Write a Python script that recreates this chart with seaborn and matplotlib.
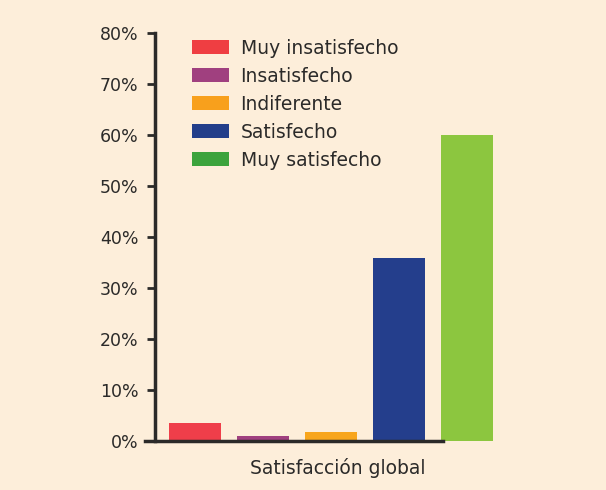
import numpy as np
import pandas as pd
import matplotlib
matplotlib.use("Agg")
import matplotlib.pyplot as plt
from matplotlib.patches import Patch
import seaborn as sns

categorias = ["Muy insatisfecho", "Insatisfecho", "Indiferente", "Satisfecho", "Muy satisfecho"]
porcentajes = [3.5, 1.0, 1.8, 35.8, 60.0]
colores_barras = ["#ef3e4a", "#a0407f", "#f8a51c", "#243e8c", "#8cc63f"]
colores_leyenda = ["#ef3e42", "#a0407f", "#f8a01c", "#233e8a", "#3ca33c"]
yticks = [0, 10, 20, 30, 40, 50, 60, 70, 80]
ytick_labels = ["0%", "10%", "20%", "30%", "40%", "50%", "60%", "70%", "80%"]

fondo = "#fdeeda"
oscuro = "#2b2a29"

sns.set_style("white")
plt.rcParams["font.family"] = ["DejaVu Sans"]

df = pd.DataFrame({"cat": categorias, "pct": porcentajes})

fig = plt.figure(figsize=(6.06, 4.9), dpi=100, facecolor=fondo)
ax = fig.add_axes([155 / 606, 1 - 441 / 490, (520 - 155) / 606, (441 - 33) / 490])
ax.set_facecolor(fondo)

sns.barplot(data=df, x="cat", y="pct", hue="cat", palette=colores_barras,
            width=0.765, saturation=1, legend=False, linewidth=0, ax=ax)

ax.set_xlim(-0.588, 4.78)
ax.set_ylim(0, 80)
ax.set_yticks(yticks)
ax.set_yticklabels(ytick_labels, fontsize=12.5, color=oscuro)
ax.set_xticks([])
ax.set_ylabel("")
ax.set_xlabel("Satisfacción global", fontsize=13.5, color=oscuro, labelpad=12)

for s in ["top", "right"]:
    ax.spines[s].set_visible(False)
ax.spines["left"].set_color(oscuro)
ax.spines["left"].set_linewidth(2.5)
ax.spines["bottom"].set_color(oscuro)
ax.spines["bottom"].set_linewidth(2.5)
ax.spines["bottom"].set_bounds(-0.735, 3.65)
ax.tick_params(axis="y", direction="out", length=6, width=2, color=oscuro, pad=6, left=True)

handles = [Patch(facecolor=c, edgecolor="none") for c in colores_leyenda]
ax.legend(handles, categorias, loc="upper left", bbox_to_anchor=(0.07, 1.014),
          frameon=False, fontsize=13.5, handlelength=2.0, handleheight=0.7,
          labelspacing=0.48, handletextpad=0.6, labelcolor=oscuro,
          borderaxespad=0.2)

fig.savefig("out.png", dpi=100, facecolor=fondo)
